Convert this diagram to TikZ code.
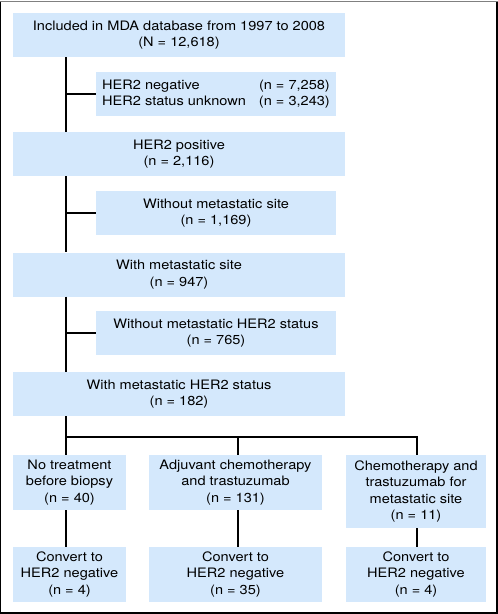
\documentclass[tikz,border=0pt]{standalone}
\usepackage{fontspec}
\setmainfont[FakeStretch=1.12]{TeX Gyre Heros}
\definecolor{boxblue}{RGB}{212,232,252}

\begin{document}
\begin{tikzpicture}[x=1pt,y=-1pt]
\tikzstyle{every node}+=[inner sep=0pt]
\tikzstyle{flowbox}=[fill=boxblue, align=center, font=\fontsize{13}{16.6}\selectfont]
\tikzstyle{wide}=[flowbox, minimum width=332pt, minimum height=44pt]
\tikzstyle{side}=[flowbox, minimum width=240pt, minimum height=44pt]
\tikzstyle{link}=[black, line width=1.6pt]
\useasboundingbox (0,0) rectangle (498,614);
% frame
\draw [gray, line width=0.8pt] (0,1.5) -- (498,1.5);
\draw [black, line width=1.3pt] (0.7,1.5) -- (0.7,613) -- (497,613) -- (497,1.5);
% main column
\node [wide] (incl) at (179,35) {Included in MDA database from 1997 to 2008\\(N = 12,618)};
\node [side] (neg) at (216,94) {\begin{tabular}{@{}l@{\hspace{13pt}}r@{}}HER2 negative & (n = 7,258)\\HER2 status unknown & (n = 3,243)\end{tabular}};
\node [wide] (pos) at (179,154) {HER2 positive\\(n = 2,116)};
\node [side] (nosite) at (216,213) {Without metastatic site\\(n = 1,169)};
\node [wide] (site) at (179,274.5) {With metastatic site\\(n = 947)};
\node [side] (nostat) at (216,333) {Without metastatic HER2 status\\(n = 765)};
\node [wide] (stat) at (179,394) {With metastatic HER2 status\\(n = 182)};
% treatment groups
\node [flowbox, minimum width=113pt, minimum height=55pt] (notreat) at (69.5,482.5) {No treatment\\before biopsy\\(n = 40)};
\node [flowbox, minimum width=173pt, minimum height=55pt] (adj) at (235.5,482.5) {Adjuvant chemotherapy\\and trastuzumab\\(n = 131)};
\node [flowbox, minimum width=140pt, minimum height=73pt] (chemo) at (416,491.5) {Chemotherapy and\\trastuzumab for\\metastatic site\\(n = 11)};
\node [flowbox, minimum width=113pt, minimum height=55pt] (conv1) at (69.5,574.5) {Convert to\\HER2 negative\\(n = 4)};
\node [flowbox, minimum width=173pt, minimum height=55pt] (conv2) at (235.5,574.5) {Convert to\\HER2 negative\\(n = 35)};
\node [flowbox, minimum width=140pt, minimum height=55pt] (conv3) at (416,574.5) {Convert to\\HER2 negative\\(n = 4)};
% connectors
\coordinate (trunk) at (66,0);
\coordinate (midcol) at (238,0);
\coordinate (rightcol) at (417,0);
\coordinate (split) at (66,437);
\draw [link] (incl.south -| trunk) -- (pos.north -| trunk);
\draw [link] (neg.west) -- (neg.west -| trunk);
\draw [link] (pos.south -| trunk) -- (site.north -| trunk);
\draw [link] (nosite.west) -- (nosite.west -| trunk);
\draw [link] (site.south -| trunk) -- (stat.north -| trunk);
\draw [link] (nostat.west) -- (nostat.west -| trunk);
\draw [link] (stat.south -| trunk) -- (notreat.north -| trunk);
\draw [link] (split) -- (split -| rightcol) -- (chemo.north -| rightcol);
\draw [link] (split -| midcol) -- (adj.north -| midcol);
\draw [link] (notreat.south -| trunk) -- (conv1.north -| trunk);
\draw [link] (adj.south -| midcol) -- (conv2.north -| midcol);
\draw [link] (chemo.south -| rightcol) -- (conv3.north -| rightcol);
\end{tikzpicture}
\end{document}
